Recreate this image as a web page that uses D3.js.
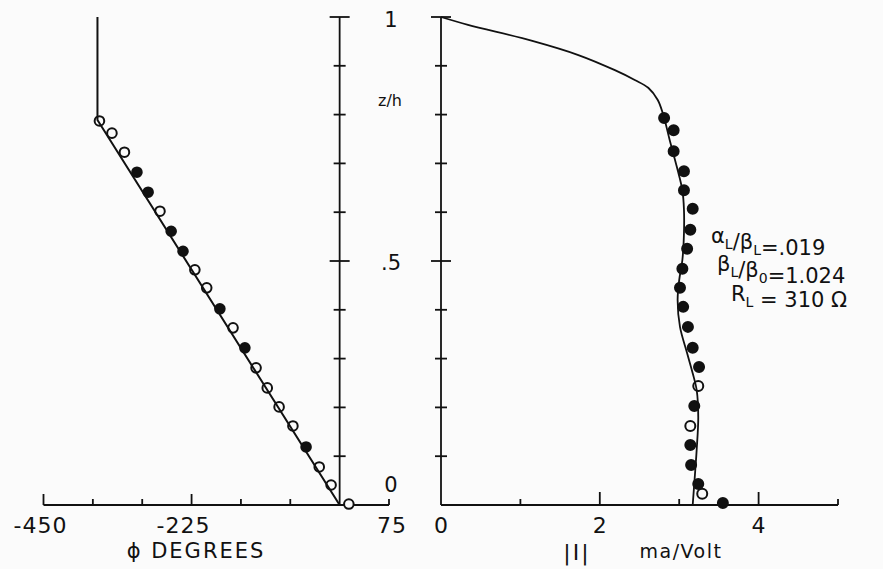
<!DOCTYPE html>
<html>
<head>
<meta charset="utf-8">
<script src="https://cdn.jsdelivr.net/npm/d3@7"></script>
<style>
  body { margin: 0; background: #fbfbfb; }
  svg text { font-family: "DejaVu Sans", sans-serif; fill: #111; }
</style>
</head>
<body>
<div id="chart"></div>
<script>
// phase curve (left panel): z/h vs phi
const phaseLineZ = [1.0, 0.789, 0.0];
const phaseLinePhi = [-368, -368, 0];
// measured phase points
const phaseZ = [0.787, 0.762, 0.723, 0.682, 0.641, 0.602, 0.561, 0.520, 0.482, 0.445, 0.402,
                0.363, 0.322, 0.281, 0.240, 0.201, 0.162, 0.119, 0.078, 0.041, 0.002];
const phasePhi = [-365, -346, -327, -308, -291, -273, -256, -238, -220, -202, -182,
                  -162, -144, -127, -110, -92, -71, -51, -31, -13, 14];
const phaseFilled = [0, 0, 0, 1, 1, 0, 1, 1, 0, 0, 1, 0, 1, 0, 0, 0, 0, 1, 0, 0, 0];

// current curve (right panel): z/h vs |I|
const currLineZ = [1.0, 0.984, 0.951, 0.922, 0.891, 0.871, 0.855, 0.830, 0.799, 0.748, 0.693,
                   0.645, 0.605, 0.557, 0.502, 0.461, 0.420, 0.365, 0.311, 0.270, 0.236,
                   0.180, 0.113, 0.066, 0.0];
const currLineI = [0.0, 0.34, 1.15, 1.73, 2.19, 2.44, 2.61, 2.73, 2.80, 2.88, 2.97,
                   3.04, 3.06, 3.06, 3.04, 3.00, 2.98, 3.01, 3.10, 3.17, 3.22,
                   3.24, 3.22, 3.20, 3.17];
// measured current points
const currZ = [0.793, 0.768, 0.725, 0.684, 0.645, 0.607, 0.564, 0.525, 0.484, 0.445, 0.406,
               0.365, 0.322, 0.283, 0.244, 0.203, 0.162, 0.123, 0.082, 0.043, 0.023, 0.004];
const currI = [2.81, 2.93, 2.93, 3.06, 3.06, 3.17, 3.14, 3.10, 3.04, 3.01, 3.05,
               3.11, 3.17, 3.25, 3.24, 3.19, 3.14, 3.14, 3.15, 3.24, 3.29, 3.55];
const currFilled = [1, 1, 1, 1, 1, 1, 1, 1, 1, 1, 1, 1, 1, 1, 0, 1, 0, 1, 1, 1, 0, 1];

// ticks and labels
const phiTicks = [-450, -375, -300, -225, -150, -75, 75];
const phiMajor = [-450, -225];
const phiLabels = [-450, -225, 75];
const iTicks = [1, 2, 3, 4, 5];
const iMajor = [2, 4];
const iLabels = [0, 2, 4];
const zLabels = [[1, '1'], [0.5, '.5'], [0, '0']];

const width = 883, height = 569;
const svg = d3.select('#chart').append('svg')
    .attr('width', width)
    .attr('height', height);

const y = d3.scaleLinear().domain([0, 1]).range([505, 17]);
const xPhi = d3.scaleLinear().domain([-450, 75]).range([43.5, 389]);
const xI = d3.scaleLinear().domain([0, 5]).range([441, 838]);

const ink = '#111';
const paper = '#fbfbfb';

// vertical axes with cross ticks
function zAxis(x0) {
    const g = svg.append('g').attr('stroke', ink).attr('stroke-width', 1.8);
    g.append('line').attr('x1', x0).attr('x2', x0).attr('y1', y(1)).attr('y2', y(0));
    y.ticks(10).forEach(t => {
        if (t === 0) return;
        const w = (t === 1 || t === 0.5) ? 10 : 6;
        g.append('line')
            .attr('x1', x0 - w).attr('x2', x0 + w)
            .attr('y1', y(t)).attr('y2', y(t));
    });
}
zAxis(xPhi(0));
zAxis(xI(0));

// horizontal axes
const gx = svg.append('g').attr('stroke', ink).attr('stroke-width', 1.8);
gx.append('line').attr('x1', xPhi(-450)).attr('x2', xPhi(75)).attr('y1', y(0)).attr('y2', y(0));
phiTicks.forEach(t => {
    const h = phiMajor.includes(t) ? 11 : 6;
    gx.append('line').attr('x1', xPhi(t)).attr('x2', xPhi(t)).attr('y1', y(0)).attr('y2', y(0) - h);
});
gx.append('line').attr('x1', xI(0)).attr('x2', xI(5)).attr('y1', y(0)).attr('y2', y(0));
iTicks.forEach(t => {
    const h = iMajor.includes(t) ? 13 : 6;
    gx.append('line').attr('x1', xI(t)).attr('x2', xI(t)).attr('y1', y(0)).attr('y2', y(0) - h);
});

// tick labels
phiLabels.forEach(t => {
    svg.append('text').attr('x', xPhi(t) - (t === -450 ? 3 : (t === -225 ? 8 : -3))).attr('y', 533)
        .attr('text-anchor', 'middle').attr('font-size', 22).attr('letter-spacing', 1)
        .text(t);
});
iLabels.forEach(t => {
    svg.append('text').attr('x', xI(t)).attr('y', 533)
        .attr('text-anchor', 'middle').attr('font-size', 22)
        .text(t);
});
zLabels.forEach(([v, s]) => {
    svg.append('text').attr('x', 391).attr('y', y(v) + (v === 1 ? 10 : (v === 0 ? -13 : 9)))
        .attr('text-anchor', 'middle').attr('font-size', 21)
        .text(s);
});
svg.append('text').attr('x', 390).attr('y', 106).attr('text-anchor', 'middle')
    .attr('font-size', 16).text('z/h');

// axis titles
svg.append('text').attr('x', 196).attr('y', 558).attr('text-anchor', 'middle')
    .attr('font-size', 21).attr('letter-spacing', 2).text('\u03D5 DEGREES');
svg.append('text').attr('x', 577).attr('y', 560).attr('text-anchor', 'middle')
    .attr('font-size', 22).attr('letter-spacing', 2).text('|I|');
svg.append('text').attr('x', 681).attr('y', 558).attr('text-anchor', 'middle')
    .attr('font-size', 19).attr('letter-spacing', 1.5).text('ma/Volt');

// parameter annotations
function subText(x0, y0, parts) {
    const t = svg.append('text').attr('x', x0).attr('y', y0).attr('font-size', 21);
    parts.forEach(([s, sub]) => {
        if (sub) {
            t.append('tspan').attr('font-size', 14).attr('dy', 6).text(s);
            t.append('tspan').attr('dy', -6).text('');
        } else {
            t.append('tspan').text(s);
        }
    });
}
subText(711, 243, [['\u03B1', 0], ['L', 1], ['/\u03B2', 0], ['L', 1], ['=.019', 0]]);
subText(717, 271, [['\u03B2', 0], ['L', 1], ['/\u03B2', 0], ['0', 1], ['=1.024', 0]]);
subText(731, 301, [['R', 0], ['L', 1], [' = 310 \u03A9', 0]]);

// phase curve
const phaseLine = d3.line().x(d => xPhi(d[1])).y(d => y(d[0]));
svg.append('g').selectAll('circle')
    .data(d3.zip(phaseZ, phasePhi, phaseFilled))
    .join('circle')
    .attr('cx', d => xPhi(d[1])).attr('cy', d => y(d[0]))
    .attr('r', 4.8)
    .attr('fill', d => d[2] ? ink : paper)
    .attr('stroke', ink).attr('stroke-width', 2);
svg.append('path')
    .datum(d3.zip(phaseLineZ, phaseLinePhi))
    .attr('d', phaseLine)
    .attr('fill', 'none').attr('stroke', ink).attr('stroke-width', 2);

// current curve
const currLine = d3.line().x(d => xI(d[1])).y(d => y(d[0])).curve(d3.curveCatmullRom);
svg.append('g').selectAll('circle')
    .data(d3.zip(currZ, currI, currFilled))
    .join('circle')
    .attr('cx', d => xI(d[1])).attr('cy', d => y(d[0]))
    .attr('r', 5)
    .attr('fill', d => d[2] ? ink : paper)
    .attr('stroke', ink).attr('stroke-width', 2);
svg.append('path')
    .datum(d3.zip(currLineZ, currLineI))
    .attr('d', currLine)
    .attr('fill', 'none').attr('stroke', ink).attr('stroke-width', 1.8);
</script>
</body>
</html>
